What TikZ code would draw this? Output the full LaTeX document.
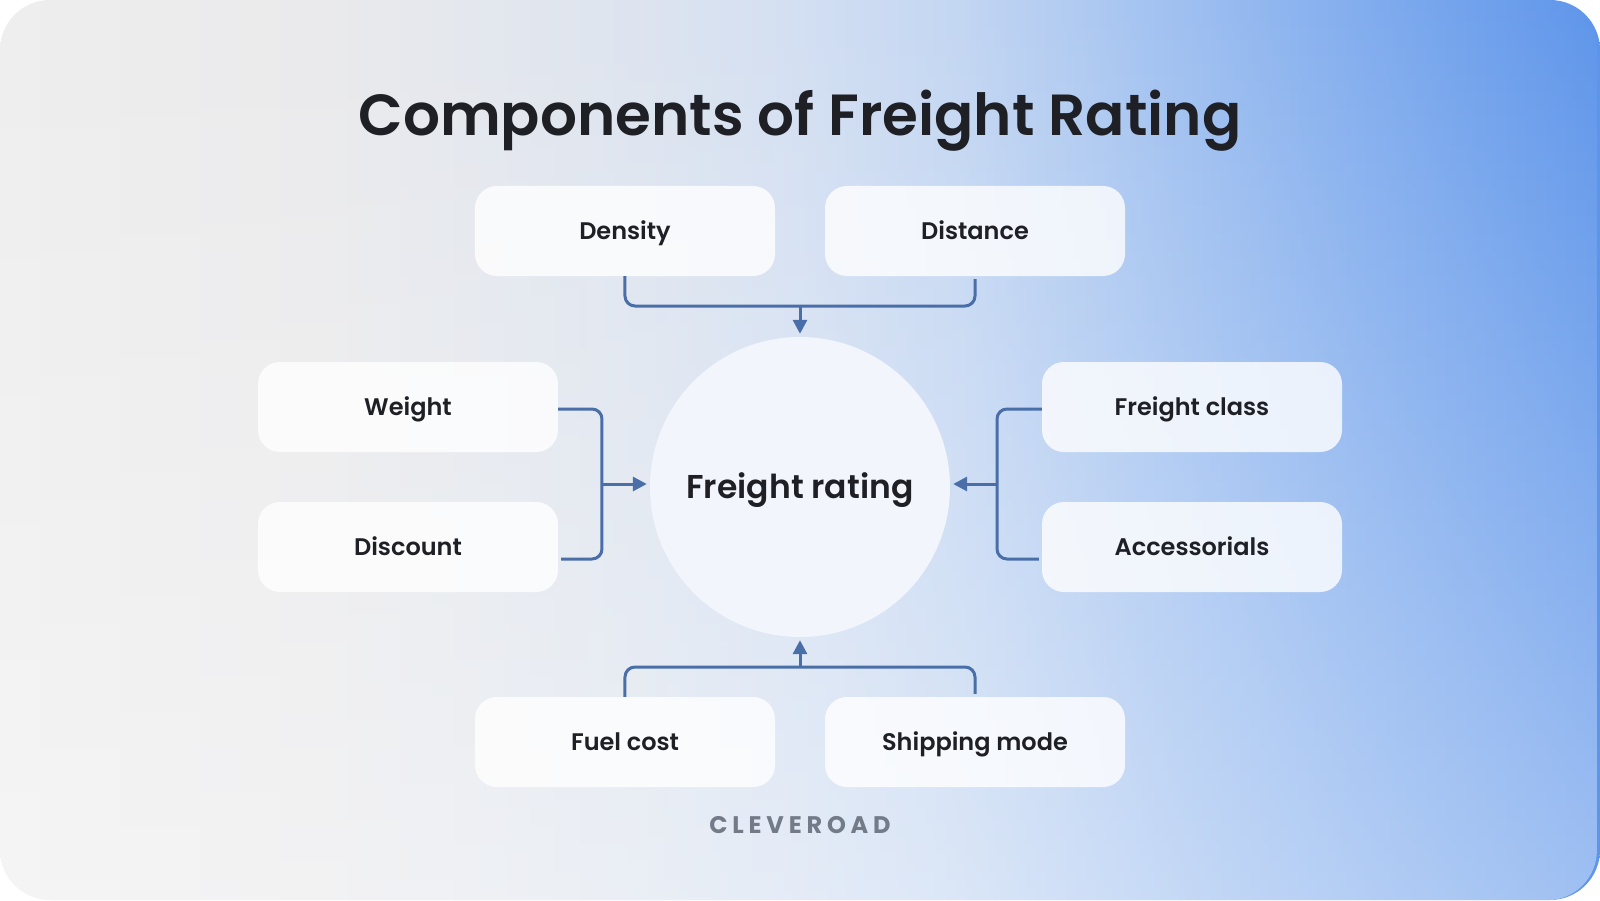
\documentclass[tikz,border=0pt]{standalone}
\usepackage{fontspec}
\setmainfont{Poppins}[UprightFont=* Medium,BoldFont=* SemiBold]
\newfontfamily\brandfont{Poppins}[UprightFont=* Bold,LetterSpace=20]
\usepackage{tikz}
\usetikzlibrary{positioning,arrows.meta,fadings}

\definecolor{ink}{HTML}{1F2026}
\definecolor{linkblue}{HTML}{4A6EA8}
\definecolor{ringfill}{HTML}{F2F6FC}
\definecolor{brandgray}{HTML}{737B89}
\definecolor{bgA}{HTML}{EEEEEE}
\definecolor{bgB}{HTML}{EAEAEC}
\definecolor{bgC}{HTML}{DDE4EF}
\definecolor{bgD}{HTML}{D3DFF2}
\definecolor{bgE}{HTML}{C3D6F2}
\definecolor{bgF}{HTML}{A9C6F1}
\definecolor{bgG}{HTML}{82ADEE}
\definecolor{bgH}{HTML}{5E95EA}
% the path box spans 25bp..75bp of the shading
\pgfdeclarehorizontalshading{bgshade}{100bp}{color(0bp)=(bgA); color(25bp)=(bgA); color(35bp)=(bgB);
  color(45bp)=(bgC); color(50bp)=(bgD); color(55bp)=(bgE); color(60bp)=(bgF); color(67.5bp)=(bgG);
  color(75bp)=(bgH); color(100bp)=(bgH)}

\begin{document}
\begin{tikzpicture}[x=1pt,y=1pt,>={Triangle[length=14pt,width=14pt]},on grid,
      factor/.style={rectangle,rounded corners=22pt,fill=white,fill opacity=0.8,text opacity=1,
        minimum width=300pt,minimum height=90pt,inner sep=0pt,text=ink,
        text height=17pt,text depth=0pt,font=\bfseries\fontsize{24}{28}\selectfont},
      main node/.style={circle,fill=ringfill,minimum size=300pt,inner sep=0pt,text=ink,
        text height=23pt,text depth=0pt,font=\bfseries\fontsize{33}{40}\selectfont},
      link/.style={draw=linkblue,line width=3pt,rounded corners=10pt,shorten >=3pt}]
      % background card
      \path[use as bounding box] (-800,-413) rectangle (800,487);
      \shade[shading=bgshade,rounded corners=50pt] (-800,-413) rectangle (800,487);
      \fill[white,path fading=north,fill opacity=0.4,rounded corners=50pt] (-800,-413) rectangle (800,487);

      \node[main node] (rate) {Freight rating};
      \node[factor] (density) [above left=256pt and 175pt of rate] {Density};
      \node[factor] (distance) [above right=256pt and 175pt of rate] {Distance};
      \node[factor] (weight) [above left=80pt and 392pt of rate] {Weight};
      \node[factor] (discount) [below left=60pt and 392pt of rate] {Discount};
      \node[factor] (fclass) [above right=80pt and 392pt of rate] {Freight class};
      \node[factor] (access) [below right=60pt and 392pt of rate] {Accessorials};
      \node[factor] (fuel) [below left=255pt and 175pt of rate] {Fuel cost};
      \node[factor] (ship) [below right=255pt and 175pt of rate] {Shipping mode};
      \node[text=ink,text height=41pt,text depth=0pt,font=\bfseries\fontsize{58}{68}\selectfont]
        (title) [above=372pt of rate] {Components of Freight Rating};
      \node[text=brandgray,font=\brandfont\fontsize{24}{28}\selectfont] (brand) [below=338pt of rate] {CLEVEROAD};

      \coordinate (topj) at (0,181);
      \coordinate (botj) at (0,-180);
      \coordinate (leftj) at (-198,3);
      \coordinate (rightj) at (197,3);

      \draw[link] (density.south) |- (topj) -| (distance.south);
      \draw[link,->] (topj) -- (rate.north);
      \draw[link] (fuel.north) |- (botj) -| (ship.north);
      \draw[link,->] (botj) -- (rate.south);
      \draw[link] ([yshift=-2pt]weight.east) -| (leftj) |- ([yshift=-12pt]discount.east);
      \draw[link,->] (leftj) -- (leftj -| rate.west);
      \draw[link] ([yshift=-2pt]fclass.west) -| (rightj) |- ([yshift=-12pt]access.west);
      \draw[link,->] (rightj) -- (rightj -| rate.east);
\end{tikzpicture}
\end{document}
